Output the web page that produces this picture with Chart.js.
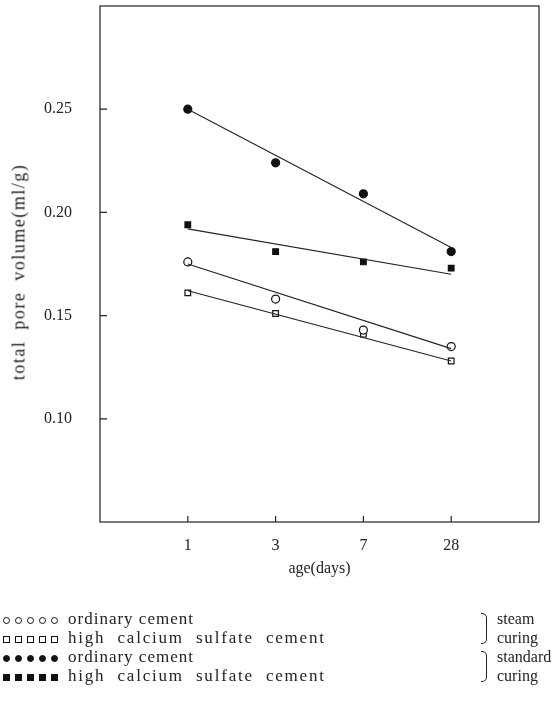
<!DOCTYPE html>
<html>
<head>
<meta charset="utf-8">
<script src="https://cdn.jsdelivr.net/npm/chart.js@4"></script>
<style>
body { margin:0; background:#fff; }
#wrap { position:relative; width:556px; height:701px; }
#ytitle { position:absolute; left:19px; top:272px; transform:translate(-50%,-50%) rotate(-90deg); white-space:nowrap;
  font-family:"Liberation Serif","DejaVu Serif",serif; font-size:18px; letter-spacing:1.5px; word-spacing:5px; color:#222; }
#legend { position:absolute; left:0; top:609px; font-family:"Liberation Serif","DejaVu Serif",serif; font-size:17px; color:#222; }
.row { position:absolute; left:0; white-space:nowrap; height:19px; line-height:19px; }
.mk { position:absolute; left:3px; top:0; }
.m { display:inline-block; width:7px; height:7px; margin-right:5px; border:1.2px solid #111; box-sizing:border-box; vertical-align:middle; }
.oc { border-radius:50%; }
.fc { border-radius:50%; background:#111; }
.fs { background:#111; }
.lbl { position:absolute; left:68px; top:0; letter-spacing:1px; }
.wide { letter-spacing:1.8px; word-spacing:6px; }
.br { position:absolute; width:5px; height:29px; border:1.2px solid #222; border-left:none; border-radius:0 5px 5px 0; }
.grp { position:absolute; left:497px; line-height:19px; font-size:16px; }
</style>
</head>
<body>
<div id="wrap">
<canvas id="myChart" width="556" height="701"></canvas>
<div id="ytitle">total pore volume(ml/g)</div>
<div id="legend"></div>
</div>
<script>
var xLabels = ["1","3","7","28"];
var xPos = [1,2,3,4];
var yTicks = [0.10,0.15,0.20,0.25];

var steamOrdinary = [0.176,0.158,0.143,0.135];
var steamHighCS = [0.161,0.151,0.141,0.128];
var stdOrdinary = [0.250,0.224,0.209,0.181];
var stdHighCS = [0.194,0.181,0.176,0.173];

// regression lines, value at age 1 and at age 28
var fitSteamOrdinary = [0.175,0.134];
var fitSteamHighCS = [0.162,0.128];
var fitStdOrdinary = [0.250,0.183];
var fitStdHighCS = [0.192,0.170];

var seriesNames = ["ordinary cement","high calcium sulfate cement","ordinary cement","high calcium sulfate cement"];

function pts(vals){ return vals.map(function(v,i){ return {x:xPos[i], y:v}; }); }
function fit(vals){ return [{x:xPos[0], y:vals[0]}, {x:xPos[xPos.length-1], y:vals[1]}]; }

function markerSet(data, style, filled){
  return { type:"scatter", data:pts(data), pointStyle:style, pointRadius:4,
    backgroundColor: filled ? "#111" : "#fff", borderColor:"#111", borderWidth:1.2, showLine:false };
}
function lineSet(data){
  return { type:"line", data:fit(data), borderColor:"#222", borderWidth:1.1, pointRadius:0, fill:false };
}

// box round the plot and inward tick marks
var frame = {
  id:"frame",
  afterDraw: function(chart){
    var c = chart.ctx, a = chart.chartArea, xs = chart.scales.x, ys = chart.scales.y;
    c.save();
    c.strokeStyle = "#222";
    c.lineWidth = 1.2;
    c.strokeRect(a.left, a.top, a.right-a.left, a.bottom-a.top);
    c.beginPath();
    yTicks.forEach(function(v){
      var p = ys.getPixelForValue(v);
      c.moveTo(a.left, p); c.lineTo(a.left+7, p);
    });
    xPos.forEach(function(v){
      var p = xs.getPixelForValue(v);
      c.moveTo(p, a.bottom); c.lineTo(p, a.bottom-6);
    });
    c.stroke();
    c.restore();
  }
};

var serif = "'Liberation Serif','DejaVu Serif',serif";

new Chart("myChart", {
  data: {
    datasets: [
      lineSet(fitStdOrdinary), lineSet(fitStdHighCS), lineSet(fitSteamOrdinary), lineSet(fitSteamHighCS),
      markerSet(stdOrdinary,"circle",true),
      markerSet(stdHighCS,"rect",true),
      markerSet(steamOrdinary,"circle",false),
      markerSet(steamHighCS,"rect",false)
    ]
  },
  options: {
    responsive:false,
    animation:false,
    layout:{ padding:{ left:0, top:6, right:17, bottom:119 } },
    plugins:{ legend:{display:false}, tooltip:{enabled:false} },
    scales:{
      x:{
        type:"linear", min:0, max:5,
        afterBuildTicks: function(s){ s.ticks = xPos.map(function(v){ return {value:v}; }); },
        afterFit: function(s){ s.height = 60; s.paddingLeft = 0; s.paddingRight = 0; },
        ticks:{ callback:function(v){ return xLabels[xPos.indexOf(v)]; }, color:"#222", font:{family:serif, size:16}, padding:6, maxRotation:0 },
        grid:{ display:false },
        border:{ display:false },
        title:{ display:true, text:"age(days)", color:"#222", font:{family:serif, size:16}, padding:{top:4} }
      },
      y:{
        min:0.05, max:0.30,
        afterBuildTicks: function(s){ s.ticks = yTicks.map(function(v){ return {value:v}; }); },
        afterFit: function(s){ s.width = 100; s.paddingTop = 0; s.paddingBottom = 0; },
        ticks:{ callback:function(v){ return v.toFixed(2); }, color:"#222", font:{family:serif, size:16}, padding:20 },
        grid:{ display:false },
        border:{ display:false }
      }
    }
  },
  plugins:[frame]
});

// legend under the chart
var legendStyles = ["oc","os","fc","fs"];
var rowTops = [0,19,38,57];
var html = "";
seriesNames.forEach(function(name,i){
  var m = "";
  for (var k=0;k<5;k++) m += '<span class="m '+legendStyles[i]+'"></span>';
  var cls = (i % 2) ? "lbl wide" : "lbl";
  html += '<div class="row" style="top:'+rowTops[i]+'px"><span class="mk">'+m+'</span><span class="'+cls+'">'+name+'</span></div>';
});
html += '<div class="br" style="left:481px;top:4px"></div><div class="grp" style="top:0px">steam<br>curing</div>';
html += '<div class="br" style="left:481px;top:42px"></div><div class="grp" style="top:38px">standard<br>curing</div>';
document.getElementById("legend").innerHTML = html;
</script>
</body>
</html>
